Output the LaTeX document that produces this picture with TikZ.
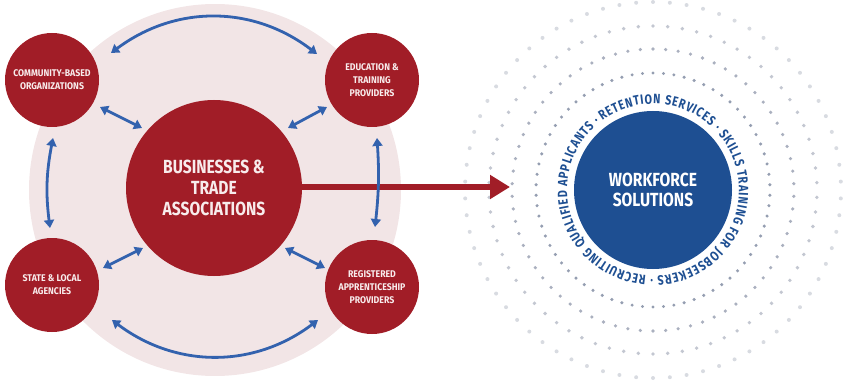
\documentclass[tikz,border=0pt]{standalone}
\usepackage{fontspec}
\newfontfamily\dinC{Fira Sans}[FakeStretch=0.82]
\newfontfamily\dinR{Fira Sans}[FakeStretch=0.8]
\newfontfamily\dinS{Fira Sans}[FakeStretch=0.9]
\usetikzlibrary{arrows.meta,decorations.text,calc}
\definecolor{bgpink}{HTML}{F2E5E6}
\definecolor{nodered}{HTML}{A11D27}
\definecolor{arrowblue}{HTML}{3362AE}
\definecolor{wfblue}{HTML}{1E4F92}
\definecolor{txtpink}{HTML}{F8ECEC}
\definecolor{dotA}{HTML}{959EB1}
\definecolor{dotB}{HTML}{AAB0BF}
\definecolor{dotC}{HTML}{C3C7D1}
\definecolor{dotD}{HTML}{D8DBE1}
\tikzset{
  bgdisk/.style={circle, fill=bgpink, minimum size=372pt, inner sep=0pt},
  bigred/.style={circle, fill=nodered, text=txtpink, align=center, inner sep=0pt,
    minimum size=176pt, font=\dinC\bfseries\fontsize{19}{21}\selectfont},
  smallred/.style={circle, fill=nodered, text=txtpink, align=center, inner sep=0pt,
    minimum size=94pt, font=\dinS\bfseries\fontsize{9.7}{12.8}\selectfont},
  wfnode/.style={circle, fill=wfblue, text=white, align=center, inner sep=0pt,
    minimum size=158pt, font=\dinC\bfseries\fontsize{19}{20}\selectfont},
  biarrow/.style={draw=arrowblue, line width=2.8pt,
    {Triangle[length=8pt,width=10pt]}-{Triangle[length=8pt,width=10pt]}},
  redarrow/.style={draw=nodered, line width=6pt, -{Triangle[length=20pt,width=23pt]}}
}
\begin{document}
\begin{tikzpicture}[x=1pt,y=1pt]
\useasboundingbox (0,0) rectangle (844,381);
% background disk
\node[bgdisk] (bg) at (215,191) {};
% workforce rings of dots
\coordinate (wfc) at (653,191);
\foreach \rr/\cc/\ss in {117/dotA/1.7,141/dotB/1.8,164/dotC/1.9,188/dotD/2.0}{
  \foreach \k in {0,...,69}{
    \fill[\cc] (wfc) ++ ({90+\k*36/7}:\rr) circle (\ss);
  }
}
% nodes
\node[bigred] (biz) at (214,193) {BUSINESSES \&\\TRADE\\ASSOCIATIONS};
\node[wfnode] (wf) at (wfc) {WORKFORCE\\SOLUTIONS};
% red arrow
\coordinate (tip) at ($(wf.center)+(-143,3)$);
\draw[redarrow] (biz.east |- tip) -- (tip);
\node[smallred] (cbo) at (52,301) {COMMUNITY-BASED\\ORGANIZATIONS};
\node[smallred] (edu) at (372,301) {EDUCATION \&\\TRAINING\\PROVIDERS};
\node[smallred] (sla) at (52,96) {STATE \& LOCAL\\AGENCIES};
\node[smallred] (rap) at (372,94) {REGISTERED\\APPRENTICESHIP\\PROVIDERS};
% arrow end points
\coordinate (t1) at ($(cbo)+(59,27)$);
\coordinate (t2) at ($(edu)+(-55,26)$);
\coordinate (b1) at ($(sla)+(60,-35)$);
\coordinate (b2) at ($(rap)+(-54,-33)$);
\coordinate (l1) at ($(cbo)+(1,-58)$);
\coordinate (l2) at ($(sla)+(-2,57)$);
\coordinate (r1) at ($(edu)+(5,-58)$);
\coordinate (r2) at ($(rap)+(3,60)$);
\coordinate (d1a) at ($(cbo)+(48,-27)$);
\coordinate (d1b) at ($(biz)+(-72,60)$);
\coordinate (d2a) at ($(edu)+(-45,-27)$);
\coordinate (d2b) at ($(biz)+(74,60)$);
\coordinate (d3a) at ($(sla)+(51,17)$);
\coordinate (d3b) at ($(biz)+(-71,-60)$);
\coordinate (d4a) at ($(rap)+(-47,19)$);
\coordinate (d4b) at ($(biz)+(71,-60)$);
% blue arrows
\draw[biarrow] (t1) to[bend left=37] (t2);
\draw[biarrow] (b1) to[bend right=37] (b2);
\draw[biarrow] (l1) to[bend right=9] (l2);
\draw[biarrow] (r1) to[bend left=5] (r2);
\draw[biarrow] (d1a) -- (d1b);
\draw[biarrow] (d2a) -- (d2b);
\draw[biarrow] (d3a) -- (d3b);
\draw[biarrow] (d4a) -- (d4b);
% ring text
\begin{scope}[color=wfblue, text=wfblue]
\path[decorate, decoration={text along path, text align={fit to path},
  text={|\dinR\bfseries\fontsize{13.5}{13.5}\selectfont\color{wfblue}|RETENTION SERVICES · SKILLS TRAINING FOR JOBSEEKERS · RECRUITING QUALIFIED APPLICANTS ·~}}]
  ($(wf.center)+(126:86)$) arc[start angle=126, end angle=-234, radius=86];
\end{scope}
\end{tikzpicture}
\end{document}
